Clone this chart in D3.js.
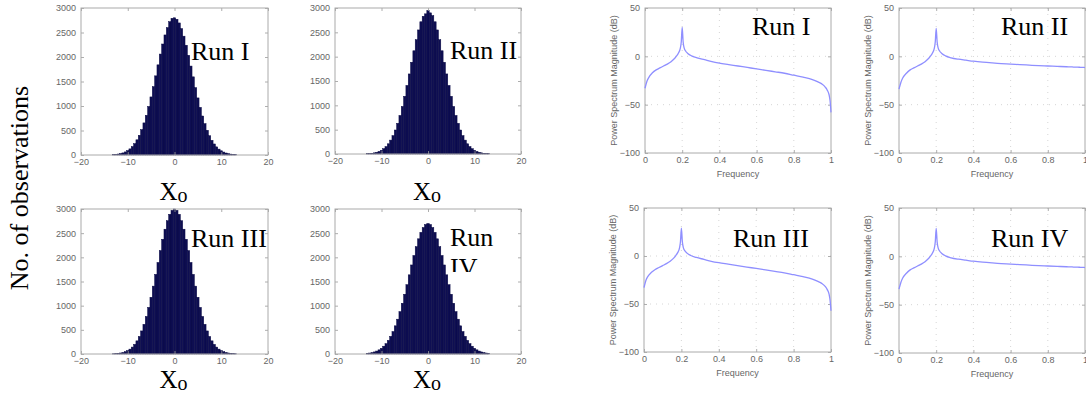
<!DOCTYPE html>
<html>
<head>
<meta charset="utf-8">
<script src="https://cdn.jsdelivr.net/npm/d3@7/dist/d3.min.js"></script>
<style>
  html, body { margin: 0; padding: 0; background: #fff; }
  svg { display: block; }
</style>
</head>
<body>
<svg id="chart" width="1086" height="395"></svg>
<script>
// ---------------- DATA ----------------
// Histogram bin centres (X_o), bin width 0.5
const binCenters = [-13,-12.5,-12,-11.5,-11,-10.5,-10,-9.5,-9,-8.5,-8,-7.5,-7,-6.5,-6,-5.5,-5,-4.5,-4,-3.5,-3,-2.5,-2,-1.5,-1,-0.5,0,0.5,1,1.5,2,2.5,3,3.5,4,4.5,5,5.5,6,6.5,7,7.5,8,8.5,9,9.5,10,10.5,11,11.5,12,12.5,13];
const histRunI   = [8,12,20,30,43,63,90,125,172,232,310,402,518,655,810,990,1185,1395,1615,1840,2060,2265,2450,2600,2720,2790,2800,2770,2695,2580,2425,2240,2035,1815,1595,1375,1165,972,796,640,505,393,300,225,166,120,86,60,41,28,18,12,7];
const histRunII  = [6,10,15,24,36,53,76,109,153,210,285,378,493,630,792,977,1185,1409,1645,1885,2121,2348,2549,2717,2830,2880,2950,2900,2844,2717,2549,2348,2121,1885,1645,1409,1185,977,792,630,493,378,285,210,153,109,76,53,36,24,15,10,6];
const histRunIII = [5,8,13,21,32,48,70,101,143,199,272,363,477,614,777,964,1174,1404,1647,1894,2140,2373,2582,2757,2890,2972,3000,2972,2890,2757,2582,2373,2140,1894,1647,1404,1174,964,777,614,477,363,272,199,143,101,70,48,32,21,13,8,5];
const histRunIV  = [14,20,30,43,61,86,118,161,214,282,365,465,583,720,877,1050,1236,1434,1638,1842,2038,2221,2383,2517,2617,2679,2700,2679,2617,2517,2383,2221,2038,1842,1638,1434,1236,1050,877,720,583,465,365,282,214,161,118,86,61,43,30,20,14];
const histXTicks = [-20,-10,0,10,20];
const histYTicks = [0,500,1000,1500,2000,2500,3000];

// Power spectrum (dB) vs normalised frequency
const psdFreq   = [0,0.01,0.02,0.04,0.06,0.08,0.1,0.12,0.14,0.16,0.17,0.18,0.19,0.195,0.2,0.205,0.21,0.22,0.23,0.25,0.28,0.32,0.36,0.4,0.45,0.5,0.55,0.6,0.65,0.7,0.75,0.8,0.85,0.9,0.93,0.95,0.97,0.98,0.99,0.995,1.0];
const psdRunI   = [-33,-26,-22,-17,-14,-12,-10,-8,-5.5,-2,0.5,3.5,8.5,15,30,15,9,5,3,0.5,-1.5,-3.5,-5.5,-7,-8.5,-10,-11.5,-13,-14.5,-16,-17.5,-19.5,-21.5,-24,-26.5,-28.5,-32,-35,-40,-46,-58];
const psdRunII  = [-34,-27,-22.5,-17.5,-14,-12,-10,-8,-5.5,-2,0.5,3.5,8.5,15,29,15,9,5,3,0.5,-1.5,-3,-4,-5,-6,-6.8,-7.5,-8,-8.6,-9.1,-9.6,-10,-10.4,-10.8,-11,-11.2,-11.3,-11.4,-11.5,-11.5,-11.6];
const psdRunIII = [-33,-25.5,-21.5,-17,-14,-12,-10,-8,-5.5,-2,0.5,3.5,8.5,15,29,15,9,5,3,0.5,-1.5,-3.5,-5.5,-7,-8.5,-10,-11.5,-13,-14.5,-16,-17.5,-19.5,-21.5,-24,-26.5,-28.5,-32,-35,-40,-46,-57];
const psdRunIV  = [-34,-27,-22.5,-17.5,-14,-12,-10,-8,-5.5,-2,0.5,3.5,8.5,15,29,15,9,5,3,0.5,-1.5,-3,-4,-5,-6,-6.8,-7.5,-8,-8.6,-9.1,-9.6,-10,-10.4,-10.8,-11,-11.2,-11.3,-11.4,-11.5,-11.5,-11.6];
const psdXTicks = [0,0.2,0.4,0.6,0.8,1];
const psdYTicks = [-100,-50,0,50];

const histRuns = ["Run I","Run II","Run III","Run IV"];
const psdRuns  = ["Run I","Run II","Run III","Run IV"];

// ---------------- LAYOUT ----------------
const svg = d3.select("#chart");
const tickFont = "Liberation Sans, Arial, sans-serif";
const serif = "Liberation Serif, Times New Roman, serif";
const tickColor = "#666";
const boxColor = "#aaa";

const histBoxes = [
  {l:81,  r:268, t:8,   b:155, label:{x:191, y:60},  xo:{y:200}},
  {l:335, r:521, t:8,   b:154, label:{x:450, y:59},  xo:{y:200}},
  {l:81,  r:268, t:209, b:354, label:{x:191, y:247}, xo:{y:388}},
  {l:335, r:521, t:209, b:354, label:{x:450, y:246}, xo:{y:388}, wrap:true}
];
const psdBoxes = [
  {l:645, r:831,  t:8,   b:153, label:{x:752, y:35}},
  {l:899, r:1085, t:8,   b:153, label:{x:1001,y:35}},
  {l:644, r:831,  t:208, b:352, label:{x:733, y:247}},
  {l:899, r:1085, t:208, b:353, label:{x:991, y:247}}
];

function styleAxis(g, showLabels) {
  g.select(".domain").remove();
  g.selectAll(".tick line").attr("stroke", "#999").attr("stroke-width", 0.8);
  g.selectAll(".tick text")
    .attr("fill", tickColor)
    .attr("font-family", tickFont)
    .attr("font-size", 9)
    .style("display", showLabels ? null : "none");
}

function drawFrame(g, box, x, y, xTicks, yTicks, xFmt, yFmt) {
  const ax = g.append("g").attr("transform", `translate(0,${box.b})`)
    .call(d3.axisBottom(x).tickValues(xTicks).tickSize(-3).tickPadding(4).tickFormat(xFmt));
  styleAxis(ax, true);
  const axT = g.append("g").attr("transform", `translate(0,${box.t})`)
    .call(d3.axisTop(x).tickValues(xTicks).tickSize(-3).tickFormat(""));
  styleAxis(axT, false);
  const ay = g.append("g").attr("transform", `translate(${box.l},0)`)
    .call(d3.axisLeft(y).tickValues(yTicks).tickSize(-3).tickPadding(5).tickFormat(yFmt));
  styleAxis(ay, true);
  const ayR = g.append("g").attr("transform", `translate(${box.r},0)`)
    .call(d3.axisRight(y).tickValues(yTicks).tickSize(-3).tickFormat(""));
  styleAxis(ayR, false);
  g.append("rect")
    .attr("x", box.l).attr("y", box.t)
    .attr("width", box.r - box.l).attr("height", box.b - box.t)
    .attr("fill", "none").attr("stroke", boxColor).attr("stroke-width", 1);
}

// ---------------- HISTOGRAMS ----------------
const histData = [histRunI, histRunII, histRunIII, histRunIV];
histBoxes.forEach((box, i) => {
  const g = svg.append("g");
  const x = d3.scaleLinear().domain([-20, 20]).range([box.l, box.r]);
  const y = d3.scaleLinear().domain([0, 3000]).range([box.b, box.t]);
  const bw = 0.5;
  g.selectAll("rect.bar")
    .data(binCenters.map((c, k) => ({c, v: histData[i][k]})))
    .join("rect")
    .attr("class", "bar")
    .attr("x", d => x(d.c - bw / 2))
    .attr("width", d => x(d.c + bw / 2) - x(d.c - bw / 2))
    .attr("y", d => y(d.v))
    .attr("height", d => y(0) - y(d.v))
    .attr("fill", "#0e0e52")
    .attr("stroke", "#0a0a44")
    .attr("stroke-width", 0.5);
  drawFrame(g, box, x, y, histXTicks, histYTicks, d3.format("d"), d3.format("d"));

  // run label
  if (box.wrap) {
    const words = histRuns[i].split(" ");
    const clipId = "clip" + i;
    svg.append("clipPath").attr("id", clipId)
      .append("rect").attr("x", box.label.x - 5).attr("y", box.label.y - 30)
      .attr("width", 80).attr("height", 56);
    const t = g.append("text")
      .attr("clip-path", `url(#${clipId})`)
      .attr("font-family", serif).attr("font-size", 26).attr("fill", "#000");
    t.append("tspan").attr("x", box.label.x).attr("y", box.label.y).text(words[0]);
    t.append("tspan").attr("x", box.label.x).attr("y", box.label.y + 30).text(words[1]);
  } else {
    g.append("text")
      .attr("x", box.label.x).attr("y", box.label.y)
      .attr("font-family", serif).attr("font-size", 26).attr("fill", "#000")
      .text(histRuns[i]);
  }
  // X_o label
  const xl = g.append("text")
    .attr("x", (box.l + box.r) / 2 - 1).attr("y", box.xo.y)
    .attr("text-anchor", "middle")
    .attr("font-family", serif).attr("font-size", 25).attr("fill", "#000");
  xl.append("tspan").text("X");
  xl.append("tspan").attr("font-size", 20).attr("dy", 2).text("o");
});

// y-axis title for histograms
svg.append("text")
  .attr("transform", "translate(28,188) rotate(-90)")
  .attr("text-anchor", "middle")
  .attr("font-family", serif).attr("font-size", 26).attr("fill", "#000")
  .text("No. of observations");

// ---------------- POWER SPECTRA ----------------
const psdData = [psdRunI, psdRunII, psdRunIII, psdRunIV];
psdBoxes.forEach((box, i) => {
  const g = svg.append("g");
  const x = d3.scaleLinear().domain([0, 1]).range([box.l, box.r]);
  const y = d3.scaleLinear().domain([-100, 50]).range([box.b, box.t]);
  // dotted grid
  g.selectAll("line.vg").data(psdXTicks.slice(1, -1)).join("line")
    .attr("x1", d => x(d)).attr("x2", d => x(d))
    .attr("y1", box.t).attr("y2", box.b)
    .attr("stroke", "#ccc").attr("stroke-width", 0.8).attr("stroke-dasharray", "1,5");
  g.selectAll("line.hg").data(psdYTicks.slice(1, -1)).join("line")
    .attr("y1", d => y(d)).attr("y2", d => y(d))
    .attr("x1", box.l).attr("x2", box.r)
    .attr("stroke", "#ccc").attr("stroke-width", 0.8).attr("stroke-dasharray", "1,5");
  drawFrame(g, box, x, y, psdXTicks, psdYTicks, d3.format("~g"), d3.format("d"));
  const line = d3.line().x((d, k) => x(psdFreq[k])).y(d => y(d)).curve(d3.curveMonotoneX);
  g.append("path")
    .datum(psdData[i])
    .attr("d", line)
    .attr("fill", "none")
    .attr("stroke", "#8f8fff")
    .attr("stroke-width", 1.3);
  // axis titles
  g.append("text")
    .attr("x", (box.l + box.r) / 2).attr("y", box.b + 24)
    .attr("text-anchor", "middle")
    .attr("font-family", tickFont).attr("font-size", 9).attr("fill", tickColor)
    .text("Frequency");
  g.append("text")
    .attr("transform", `translate(${box.l - 28},${(box.t + box.b) / 2}) rotate(-90)`)
    .attr("text-anchor", "middle")
    .attr("font-family", tickFont).attr("font-size", 9).attr("fill", tickColor)
    .text("Power Spectrum Magnitude (dB)");
  g.append("text")
    .attr("x", box.label.x).attr("y", box.label.y)
    .attr("font-family", serif).attr("font-size", 26).attr("fill", "#000")
    .text(psdRuns[i]);
});
</script>
</body>
</html>
